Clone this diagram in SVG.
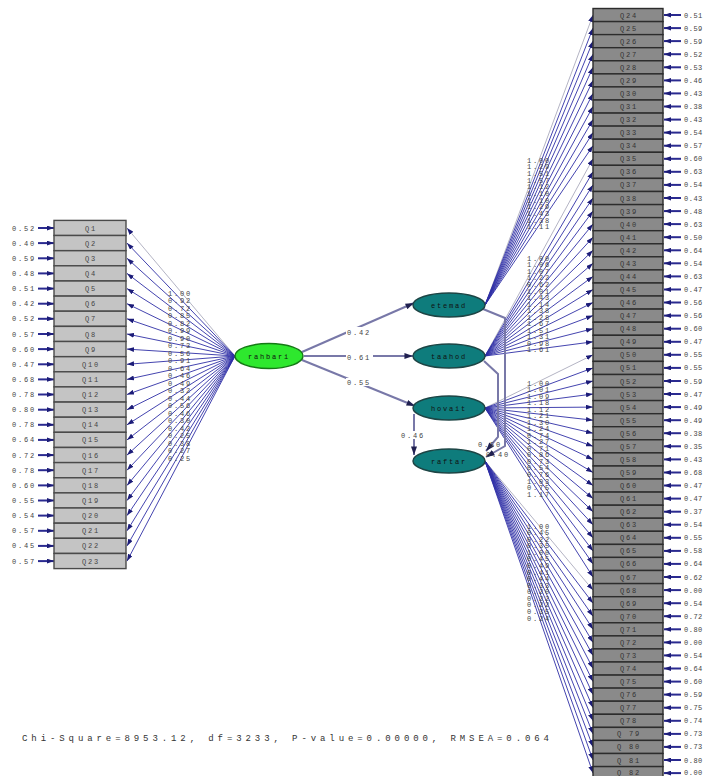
<svg xmlns="http://www.w3.org/2000/svg" width="705" height="776" viewBox="0 0 705 776">
<style>
.t{font-family:"Liberation Mono",monospace;font-size:7px;letter-spacing:1.8px;fill:#444}
.tr{font-family:"Liberation Mono",monospace;font-size:7px;letter-spacing:0.5px;fill:#444}
.c{text-anchor:middle}
.bl rect{fill:#c4c4c4;stroke:#4a4a4a;stroke-width:1.4}
.br rect{fill:#8a8a8a;stroke:#2c2c2c;stroke-width:1.4}
.br text{fill:#333}
.lat ellipse{fill:#0e7c7c;stroke:#1d4545;stroke-width:1.5}
.lt{font-family:"Liberation Mono",monospace;font-size:7px;letter-spacing:1.8px;fill:#111;text-anchor:middle}
.ld{stroke:#3030a6;stroke-width:1;stroke-opacity:.9;fill:none;marker-end:url(#ah)}
.fx{stroke:#b4b4c4;stroke-width:1;fill:none;marker-end:url(#ah)}
.er{stroke:#2a2a90;stroke-width:2;marker-end:url(#ah)}
.st{stroke:#7878a8;stroke-width:2;fill:none;marker-end:url(#am)}
.bg{fill:#fff}
.chi{font-family:"Liberation Mono",monospace;font-size:9px;fill:#333}
</style>
<defs>
<marker id="ah" viewBox="0 0 10 7" refX="10" refY="3.5" markerWidth="7" markerHeight="5" markerUnits="userSpaceOnUse" orient="auto"><path d="M0,0 L10,3.5 L0,7 z" fill="#1c1c78"/></marker>
<marker id="am" viewBox="0 0 10 7" refX="10" refY="3.5" markerWidth="9" markerHeight="6" markerUnits="userSpaceOnUse" orient="auto"><path d="M0,0 L10,3.5 L0,7 z" fill="#202050"/></marker>
</defs>
<rect width="705" height="776" fill="#fff"/>

<!-- connectors: loadings, structural paths, error terms -->
<g id="connectors">
<!-- rahbari -> Q1..Q23 -->
<line class="fx" x1="235" y1="356" x2="127" y2="228"/>
<line class="ld" x1="235" y1="356" x2="127" y2="243.1"/>
<line class="ld" x1="235" y1="356" x2="127" y2="258.3"/>
<line class="ld" x1="235" y1="356" x2="127" y2="273.4"/>
<line class="ld" x1="235" y1="356" x2="127" y2="288.6"/>
<line class="ld" x1="235" y1="356" x2="127" y2="303.7"/>
<line class="ld" x1="235" y1="356" x2="127" y2="318.8"/>
<line class="ld" x1="235" y1="356" x2="127" y2="334"/>
<line class="ld" x1="235" y1="356" x2="127" y2="349.1"/>
<line class="ld" x1="235" y1="356" x2="127" y2="364.3"/>
<line class="ld" x1="235" y1="356" x2="127" y2="379.4"/>
<line class="ld" x1="235" y1="356" x2="127" y2="394.5"/>
<line class="ld" x1="235" y1="356" x2="127" y2="409.7"/>
<line class="ld" x1="235" y1="356" x2="127" y2="424.8"/>
<line class="ld" x1="235" y1="356" x2="127" y2="439.9"/>
<line class="ld" x1="235" y1="356" x2="127" y2="455.1"/>
<line class="ld" x1="235" y1="356" x2="127" y2="470.2"/>
<line class="ld" x1="235" y1="356" x2="127" y2="485.4"/>
<line class="ld" x1="235" y1="356" x2="127" y2="500.5"/>
<line class="ld" x1="235" y1="356" x2="127" y2="515.6"/>
<line class="ld" x1="235" y1="356" x2="127" y2="530.8"/>
<line class="ld" x1="235" y1="356" x2="127" y2="545.9"/>
<line class="ld" x1="235" y1="356" x2="127" y2="561.1"/>

<!-- etemad -> Q24..Q34 -->
<line class="fx" x1="485" y1="305" x2="593" y2="15"/>
<line class="ld" x1="485" y1="305" x2="593" y2="28.1"/>
<line class="ld" x1="485" y1="305" x2="593" y2="41.1"/>
<line class="ld" x1="485" y1="305" x2="593" y2="54.2"/>
<line class="ld" x1="485" y1="305" x2="593" y2="67.3"/>
<line class="ld" x1="485" y1="305" x2="593" y2="80.4"/>
<line class="ld" x1="485" y1="305" x2="593" y2="93.4"/>
<line class="ld" x1="485" y1="305" x2="593" y2="106.5"/>
<line class="ld" x1="485" y1="305" x2="593" y2="119.6"/>
<line class="ld" x1="485" y1="305" x2="593" y2="132.6"/>
<line class="ld" x1="485" y1="305" x2="593" y2="145.7"/>
<!-- taahod -> Q35..Q49 -->
<line class="fx" x1="485" y1="356" x2="593" y2="158.8"/>
<line class="ld" x1="485" y1="356" x2="593" y2="171.8"/>
<line class="ld" x1="485" y1="356" x2="593" y2="184.9"/>
<line class="ld" x1="485" y1="356" x2="593" y2="198"/>
<line class="ld" x1="485" y1="356" x2="593" y2="211.1"/>
<line class="ld" x1="485" y1="356" x2="593" y2="224.1"/>
<line class="ld" x1="485" y1="356" x2="593" y2="237.2"/>
<line class="ld" x1="485" y1="356" x2="593" y2="250.3"/>
<line class="ld" x1="485" y1="356" x2="593" y2="263.3"/>
<line class="ld" x1="485" y1="356" x2="593" y2="276.4"/>
<line class="ld" x1="485" y1="356" x2="593" y2="289.5"/>
<line class="ld" x1="485" y1="356" x2="593" y2="302.5"/>
<line class="ld" x1="485" y1="356" x2="593" y2="315.6"/>
<line class="ld" x1="485" y1="356" x2="593" y2="328.7"/>
<line class="ld" x1="485" y1="356" x2="593" y2="341.8"/>
<!-- hovait -> Q50..Q67 -->
<line class="fx" x1="485" y1="408" x2="593" y2="354.8"/>
<line class="ld" x1="485" y1="408" x2="593" y2="367.9"/>
<line class="ld" x1="485" y1="408" x2="593" y2="381"/>
<line class="ld" x1="485" y1="408" x2="593" y2="394"/>
<line class="ld" x1="485" y1="408" x2="593" y2="407.1"/>
<line class="ld" x1="485" y1="408" x2="593" y2="420.2"/>
<line class="ld" x1="485" y1="408" x2="593" y2="433.2"/>
<line class="ld" x1="485" y1="408" x2="593" y2="446.3"/>
<line class="ld" x1="485" y1="408" x2="593" y2="459.4"/>
<line class="ld" x1="485" y1="408" x2="593" y2="472.5"/>
<line class="ld" x1="485" y1="408" x2="593" y2="485.5"/>
<line class="ld" x1="485" y1="408" x2="593" y2="498.6"/>
<line class="ld" x1="485" y1="408" x2="593" y2="511.7"/>
<line class="ld" x1="485" y1="408" x2="593" y2="524.7"/>
<line class="ld" x1="485" y1="408" x2="593" y2="537.8"/>
<line class="ld" x1="485" y1="408" x2="593" y2="550.9"/>
<line class="ld" x1="485" y1="408" x2="593" y2="563.9"/>
<line class="ld" x1="485" y1="408" x2="593" y2="577"/>
<!-- raftar -> Q68..Q82 -->
<line class="fx" x1="485" y1="461" x2="593" y2="590.1"/>
<line class="ld" x1="485" y1="461" x2="593" y2="603.2"/>
<line class="ld" x1="485" y1="461" x2="593" y2="616.2"/>
<line class="ld" x1="485" y1="461" x2="593" y2="629.3"/>
<line class="ld" x1="485" y1="461" x2="593" y2="642.4"/>
<line class="ld" x1="485" y1="461" x2="593" y2="655.4"/>
<line class="ld" x1="485" y1="461" x2="593" y2="668.5"/>
<line class="ld" x1="485" y1="461" x2="593" y2="681.6"/>
<line class="ld" x1="485" y1="461" x2="593" y2="694.6"/>
<line class="ld" x1="485" y1="461" x2="593" y2="707.7"/>
<line class="ld" x1="485" y1="461" x2="593" y2="720.8"/>
<line class="ld" x1="485" y1="461" x2="593" y2="733.9"/>
<line class="ld" x1="485" y1="461" x2="593" y2="746.9"/>
<line class="ld" x1="485" y1="461" x2="593" y2="760"/>
<line class="ld" x1="485" y1="461" x2="593" y2="773.1"/>

<!-- structural paths -->
<line class="st" x1="302" y1="352" x2="414" y2="303"/>
<line class="st" x1="304" y1="356" x2="413" y2="356"/>
<line class="st" x1="302" y1="360" x2="415" y2="406"/>
<path class="st" d="M414,414 L414,455"/>
<path class="st" d="M483,309 L505,318 L505,446 L486,457"/>
<path class="st" d="M484,361 L498,374 L498,437 L486,451"/>
<rect class="bg" x="346" y="327" width="27" height="8"/>
<rect class="bg" x="346" y="353" width="27" height="8"/>
<rect class="bg" x="346" y="378" width="27" height="8"/>
<rect class="bg" x="400" y="431" width="27" height="8"/>
<text class="t" x="347" y="334.5">0.42</text>
<text class="t" x="347" y="360">0.61</text>
<text class="t" x="347" y="384.5">0.55</text>
<text class="t" x="401" y="437.5">0.46</text>
<text class="t" x="478" y="446.5">0.50</text>
<text class="t" x="486" y="456.5">0.40</text>

<!-- loading values: rahbari -->
<g class="t">
<text x="168" y="295.8">1.00</text>
<text x="168" y="303.3">0.92</text>
<text x="168" y="310.8">0.72</text>
<text x="168" y="318.3">0.85</text>
<text x="168" y="325.8">0.82</text>
<text x="168" y="333.3">0.99</text>
<text x="168" y="340.7">0.90</text>
<text x="168" y="348.2">0.73</text>
<text x="168" y="355.7">0.56</text>
<text x="168" y="363.2">0.91</text>
<text x="168" y="370.7">0.64</text>
<text x="168" y="378.2">0.46</text>
<text x="168" y="385.7">0.49</text>
<text x="168" y="393.2">0.32</text>
<text x="168" y="400.7">0.44</text>
<text x="168" y="408.2">0.56</text>
<text x="168" y="415.6">0.46</text>
<text x="168" y="423.1">0.30</text>
<text x="168" y="430.6">0.42</text>
<text x="168" y="438.1">0.25</text>
<text x="168" y="445.6">0.38</text>
<text x="168" y="453.1">0.27</text>
<text x="168" y="460.6">0.25</text>
</g>
<!-- loading values: etemad -->
<g class="t">
<text x="527" y="162.5">1.00</text>
<text x="527" y="169.2">1.29</text>
<text x="527" y="175.8">1.51</text>
<text x="527" y="182.5">1.57</text>
<text x="527" y="189.2">1.12</text>
<text x="527" y="195.8">1.10</text>
<text x="527" y="202.5">1.10</text>
<text x="527" y="209.2">1.29</text>
<text x="527" y="215.8">1.43</text>
<text x="527" y="222.5">1.38</text>
<text x="527" y="229.2">1.11</text>
</g>
<!-- loading values: taahod -->
<g class="t">
<text x="527" y="260.8">1.00</text>
<text x="527" y="267.3">1.06</text>
<text x="527" y="273.9">1.07</text>
<text x="527" y="280.4">1.22</text>
<text x="527" y="287">0.62</text>
<text x="527" y="293.5">1.01</text>
<text x="527" y="300">1.43</text>
<text x="527" y="306.6">1.14</text>
<text x="527" y="313.1">1.38</text>
<text x="527" y="319.7">1.28</text>
<text x="527" y="326.2">1.67</text>
<text x="527" y="332.7">1.51</text>
<text x="527" y="339.3">1.31</text>
<text x="527" y="345.8">0.98</text>
<text x="527" y="352.4">1.61</text>
</g>
<!-- loading values: hovait -->
<g class="t">
<text x="527" y="385.5">1.00</text>
<text x="527" y="392">1.01</text>
<text x="527" y="398.6">1.09</text>
<text x="527" y="405.1">1.18</text>
<text x="527" y="411.6">1.12</text>
<text x="527" y="418.2">1.21</text>
<text x="527" y="424.7">1.30</text>
<text x="527" y="431.2">1.24</text>
<text x="527" y="437.7">0.74</text>
<text x="527" y="444.3">1.27</text>
<text x="527" y="450.8">0.71</text>
<text x="527" y="457.3">0.86</text>
<text x="527" y="463.9">0.73</text>
<text x="527" y="470.4">0.54</text>
<text x="527" y="476.9">0.76</text>
<text x="527" y="483.5">1.03</text>
<text x="527" y="490">0.75</text>
<text x="527" y="496.5">1.17</text>
</g>
<!-- loading values: raftar -->
<g class="t">
<text x="527" y="528.5">1.00</text>
<text x="527" y="535.1">0.45</text>
<text x="527" y="541.6">0.22</text>
<text x="527" y="548.2">0.35</text>
<text x="527" y="554.8">1.00</text>
<text x="527" y="561.4">0.45</text>
<text x="527" y="567.9">0.49</text>
<text x="527" y="574.5">0.41</text>
<text x="527" y="581.1">0.44</text>
<text x="527" y="587.6">0.33</text>
<text x="527" y="594.2">0.20</text>
<text x="527" y="600.8">0.22</text>
<text x="527" y="607.3">0.22</text>
<text x="527" y="613.9">0.35</text>
<text x="527" y="620.5">0.24</text>
</g>

<!-- error terms, left column -->
<g>
<line class="er" x1="38" y1="228" x2="54" y2="228"/><text class="t" x="12" y="230.5">0.52</text>
<line class="er" x1="38" y1="243.1" x2="54" y2="243.1"/><text class="t" x="12" y="245.6">0.40</text>
<line class="er" x1="38" y1="258.3" x2="54" y2="258.3"/><text class="t" x="12" y="260.8">0.59</text>
<line class="er" x1="38" y1="273.4" x2="54" y2="273.4"/><text class="t" x="12" y="275.9">0.48</text>
<line class="er" x1="38" y1="288.6" x2="54" y2="288.6"/><text class="t" x="12" y="291.1">0.51</text>
<line class="er" x1="38" y1="303.7" x2="54" y2="303.7"/><text class="t" x="12" y="306.2">0.42</text>
<line class="er" x1="38" y1="318.8" x2="54" y2="318.8"/><text class="t" x="12" y="321.3">0.52</text>
<line class="er" x1="38" y1="334" x2="54" y2="334"/><text class="t" x="12" y="336.5">0.57</text>
<line class="er" x1="38" y1="349.1" x2="54" y2="349.1"/><text class="t" x="12" y="351.6">0.60</text>
<line class="er" x1="38" y1="364.3" x2="54" y2="364.3"/><text class="t" x="12" y="366.8">0.47</text>
<line class="er" x1="38" y1="379.4" x2="54" y2="379.4"/><text class="t" x="12" y="381.9">0.68</text>
<line class="er" x1="38" y1="394.5" x2="54" y2="394.5"/><text class="t" x="12" y="397">0.78</text>
<line class="er" x1="38" y1="409.7" x2="54" y2="409.7"/><text class="t" x="12" y="412.2">0.80</text>
<line class="er" x1="38" y1="424.8" x2="54" y2="424.8"/><text class="t" x="12" y="427.3">0.78</text>
<line class="er" x1="38" y1="439.9" x2="54" y2="439.9"/><text class="t" x="12" y="442.4">0.64</text>
<line class="er" x1="38" y1="455.1" x2="54" y2="455.1"/><text class="t" x="12" y="457.6">0.72</text>
<line class="er" x1="38" y1="470.2" x2="54" y2="470.2"/><text class="t" x="12" y="472.7">0.78</text>
<line class="er" x1="38" y1="485.4" x2="54" y2="485.4"/><text class="t" x="12" y="487.9">0.60</text>
<line class="er" x1="38" y1="500.5" x2="54" y2="500.5"/><text class="t" x="12" y="503">0.55</text>
<line class="er" x1="38" y1="515.6" x2="54" y2="515.6"/><text class="t" x="12" y="518.1">0.54</text>
<line class="er" x1="38" y1="530.8" x2="54" y2="530.8"/><text class="t" x="12" y="533.3">0.57</text>
<line class="er" x1="38" y1="545.9" x2="54" y2="545.9"/><text class="t" x="12" y="548.4">0.45</text>
<line class="er" x1="38" y1="561.1" x2="54" y2="561.1"/><text class="t" x="12" y="563.6">0.57</text>
</g>
<!-- error terms, right column -->
<g>
<line class="er" x1="681" y1="15" x2="664" y2="15"/><text class="tr" x="684" y="17.5">0.51</text>
<line class="er" x1="681" y1="28.1" x2="664" y2="28.1"/><text class="tr" x="684" y="30.6">0.59</text>
<line class="er" x1="681" y1="41.1" x2="664" y2="41.1"/><text class="tr" x="684" y="43.6">0.59</text>
<line class="er" x1="681" y1="54.2" x2="664" y2="54.2"/><text class="tr" x="684" y="56.7">0.52</text>
<line class="er" x1="681" y1="67.3" x2="664" y2="67.3"/><text class="tr" x="684" y="69.8">0.53</text>
<line class="er" x1="681" y1="80.4" x2="664" y2="80.4"/><text class="tr" x="684" y="82.9">0.46</text>
<line class="er" x1="681" y1="93.4" x2="664" y2="93.4"/><text class="tr" x="684" y="95.9">0.43</text>
<line class="er" x1="681" y1="106.5" x2="664" y2="106.5"/><text class="tr" x="684" y="109">0.38</text>
<line class="er" x1="681" y1="119.6" x2="664" y2="119.6"/><text class="tr" x="684" y="122.1">0.43</text>
<line class="er" x1="681" y1="132.6" x2="664" y2="132.6"/><text class="tr" x="684" y="135.1">0.54</text>
<line class="er" x1="681" y1="145.7" x2="664" y2="145.7"/><text class="tr" x="684" y="148.2">0.57</text>
<line class="er" x1="681" y1="158.8" x2="664" y2="158.8"/><text class="tr" x="684" y="161.3">0.60</text>
<line class="er" x1="681" y1="171.8" x2="664" y2="171.8"/><text class="tr" x="684" y="174.3">0.63</text>
<line class="er" x1="681" y1="184.9" x2="664" y2="184.9"/><text class="tr" x="684" y="187.4">0.54</text>
<line class="er" x1="681" y1="198" x2="664" y2="198"/><text class="tr" x="684" y="200.5">0.43</text>
<line class="er" x1="681" y1="211.1" x2="664" y2="211.1"/><text class="tr" x="684" y="213.6">0.48</text>
<line class="er" x1="681" y1="224.1" x2="664" y2="224.1"/><text class="tr" x="684" y="226.6">0.63</text>
<line class="er" x1="681" y1="237.2" x2="664" y2="237.2"/><text class="tr" x="684" y="239.7">0.50</text>
<line class="er" x1="681" y1="250.3" x2="664" y2="250.3"/><text class="tr" x="684" y="252.8">0.64</text>
<line class="er" x1="681" y1="263.3" x2="664" y2="263.3"/><text class="tr" x="684" y="265.8">0.54</text>
<line class="er" x1="681" y1="276.4" x2="664" y2="276.4"/><text class="tr" x="684" y="278.9">0.63</text>
<line class="er" x1="681" y1="289.5" x2="664" y2="289.5"/><text class="tr" x="684" y="292">0.47</text>
<line class="er" x1="681" y1="302.5" x2="664" y2="302.5"/><text class="tr" x="684" y="305">0.56</text>
<line class="er" x1="681" y1="315.6" x2="664" y2="315.6"/><text class="tr" x="684" y="318.1">0.56</text>
<line class="er" x1="681" y1="328.7" x2="664" y2="328.7"/><text class="tr" x="684" y="331.2">0.60</text>
<line class="er" x1="681" y1="341.8" x2="664" y2="341.8"/><text class="tr" x="684" y="344.3">0.47</text>
<line class="er" x1="681" y1="354.8" x2="664" y2="354.8"/><text class="tr" x="684" y="357.3">0.55</text>
<line class="er" x1="681" y1="367.9" x2="664" y2="367.9"/><text class="tr" x="684" y="370.4">0.55</text>
<line class="er" x1="681" y1="381" x2="664" y2="381"/><text class="tr" x="684" y="383.5">0.59</text>
<line class="er" x1="681" y1="394" x2="664" y2="394"/><text class="tr" x="684" y="396.5">0.47</text>
<line class="er" x1="681" y1="407.1" x2="664" y2="407.1"/><text class="tr" x="684" y="409.6">0.49</text>
<line class="er" x1="681" y1="420.2" x2="664" y2="420.2"/><text class="tr" x="684" y="422.7">0.49</text>
<line class="er" x1="681" y1="433.2" x2="664" y2="433.2"/><text class="tr" x="684" y="435.7">0.38</text>
<line class="er" x1="681" y1="446.3" x2="664" y2="446.3"/><text class="tr" x="684" y="448.8">0.35</text>
<line class="er" x1="681" y1="459.4" x2="664" y2="459.4"/><text class="tr" x="684" y="461.9">0.43</text>
<line class="er" x1="681" y1="472.5" x2="664" y2="472.5"/><text class="tr" x="684" y="475">0.68</text>
<line class="er" x1="681" y1="485.5" x2="664" y2="485.5"/><text class="tr" x="684" y="488">0.47</text>
<line class="er" x1="681" y1="498.6" x2="664" y2="498.6"/><text class="tr" x="684" y="501.1">0.47</text>
<line class="er" x1="681" y1="511.7" x2="664" y2="511.7"/><text class="tr" x="684" y="514.2">0.37</text>
<line class="er" x1="681" y1="524.7" x2="664" y2="524.7"/><text class="tr" x="684" y="527.2">0.54</text>
<line class="er" x1="681" y1="537.8" x2="664" y2="537.8"/><text class="tr" x="684" y="540.3">0.55</text>
<line class="er" x1="681" y1="550.9" x2="664" y2="550.9"/><text class="tr" x="684" y="553.4">0.58</text>
<line class="er" x1="681" y1="563.9" x2="664" y2="563.9"/><text class="tr" x="684" y="566.4">0.64</text>
<line class="er" x1="681" y1="577" x2="664" y2="577"/><text class="tr" x="684" y="579.5">0.62</text>
<line class="er" x1="681" y1="590.1" x2="664" y2="590.1"/><text class="tr" x="684" y="592.6">0.00</text>
<line class="er" x1="681" y1="603.2" x2="664" y2="603.2"/><text class="tr" x="684" y="605.7">0.54</text>
<line class="er" x1="681" y1="616.2" x2="664" y2="616.2"/><text class="tr" x="684" y="618.7">0.72</text>
<line class="er" x1="681" y1="629.3" x2="664" y2="629.3"/><text class="tr" x="684" y="631.8">0.80</text>
<line class="er" x1="681" y1="642.4" x2="664" y2="642.4"/><text class="tr" x="684" y="644.9">0.00</text>
<line class="er" x1="681" y1="655.4" x2="664" y2="655.4"/><text class="tr" x="684" y="657.9">0.54</text>
<line class="er" x1="681" y1="668.5" x2="664" y2="668.5"/><text class="tr" x="684" y="671">0.64</text>
<line class="er" x1="681" y1="681.6" x2="664" y2="681.6"/><text class="tr" x="684" y="684.1">0.60</text>
<line class="er" x1="681" y1="694.6" x2="664" y2="694.6"/><text class="tr" x="684" y="697.1">0.59</text>
<line class="er" x1="681" y1="707.7" x2="664" y2="707.7"/><text class="tr" x="684" y="710.2">0.75</text>
<line class="er" x1="681" y1="720.8" x2="664" y2="720.8"/><text class="tr" x="684" y="723.3">0.74</text>
<line class="er" x1="681" y1="733.9" x2="664" y2="733.9"/><text class="tr" x="684" y="736.4">0.73</text>
<line class="er" x1="681" y1="746.9" x2="664" y2="746.9"/><text class="tr" x="684" y="749.4">0.73</text>
<line class="er" x1="681" y1="760" x2="664" y2="760"/><text class="tr" x="684" y="762.5">0.80</text>
<line class="er" x1="681" y1="773.1" x2="664" y2="773.1"/><text class="tr" x="684" y="775">0.00</text>
</g>
</g>

<!-- latent variables -->
<g id="rahbari"><ellipse cx="269" cy="356" rx="34" ry="12.5" fill="#2ee82e" stroke="#157a15" stroke-width="1.5"/><text class="lt" x="269" y="358.5">rahbari</text></g>
<g id="etemad" class="lat"><ellipse cx="449" cy="305" rx="36" ry="12"/><text class="lt" x="449" y="307.5">etemad</text></g>
<g id="taahod" class="lat"><ellipse cx="449" cy="356" rx="36" ry="12"/><text class="lt" x="449" y="358.5">taahod</text></g>
<g id="hovait" class="lat"><ellipse cx="449" cy="408" rx="36" ry="12"/><text class="lt" x="449" y="410.5">hovait</text></g>
<g id="raftar" class="lat"><ellipse cx="449" cy="461" rx="36" ry="12"/><text class="lt" x="449" y="463.5">raftar</text></g>

<!-- observed indicators, left column -->
<g class="bl">
<g id="Q1"><rect x="54" y="220.4" width="72" height="15.1"/><text class="t c" x="91" y="230.5">Q1</text></g>
<g id="Q2"><rect x="54" y="235.5" width="72" height="15.1"/><text class="t c" x="91" y="245.6">Q2</text></g>
<g id="Q3"><rect x="54" y="250.7" width="72" height="15.1"/><text class="t c" x="91" y="260.8">Q3</text></g>
<g id="Q4"><rect x="54" y="265.8" width="72" height="15.1"/><text class="t c" x="91" y="275.9">Q4</text></g>
<g id="Q5"><rect x="54" y="281" width="72" height="15.1"/><text class="t c" x="91" y="291.1">Q5</text></g>
<g id="Q6"><rect x="54" y="296.1" width="72" height="15.1"/><text class="t c" x="91" y="306.2">Q6</text></g>
<g id="Q7"><rect x="54" y="311.2" width="72" height="15.1"/><text class="t c" x="91" y="321.3">Q7</text></g>
<g id="Q8"><rect x="54" y="326.4" width="72" height="15.1"/><text class="t c" x="91" y="336.5">Q8</text></g>
<g id="Q9"><rect x="54" y="341.5" width="72" height="15.1"/><text class="t c" x="91" y="351.6">Q9</text></g>
<g id="Q10"><rect x="54" y="356.7" width="72" height="15.1"/><text class="t c" x="91" y="366.8">Q10</text></g>
<g id="Q11"><rect x="54" y="371.8" width="72" height="15.1"/><text class="t c" x="91" y="381.9">Q11</text></g>
<g id="Q12"><rect x="54" y="386.9" width="72" height="15.1"/><text class="t c" x="91" y="397">Q12</text></g>
<g id="Q13"><rect x="54" y="402.1" width="72" height="15.1"/><text class="t c" x="91" y="412.2">Q13</text></g>
<g id="Q14"><rect x="54" y="417.2" width="72" height="15.1"/><text class="t c" x="91" y="427.3">Q14</text></g>
<g id="Q15"><rect x="54" y="432.3" width="72" height="15.1"/><text class="t c" x="91" y="442.4">Q15</text></g>
<g id="Q16"><rect x="54" y="447.5" width="72" height="15.1"/><text class="t c" x="91" y="457.6">Q16</text></g>
<g id="Q17"><rect x="54" y="462.6" width="72" height="15.1"/><text class="t c" x="91" y="472.7">Q17</text></g>
<g id="Q18"><rect x="54" y="477.8" width="72" height="15.1"/><text class="t c" x="91" y="487.9">Q18</text></g>
<g id="Q19"><rect x="54" y="492.9" width="72" height="15.1"/><text class="t c" x="91" y="503">Q19</text></g>
<g id="Q20"><rect x="54" y="508" width="72" height="15.1"/><text class="t c" x="91" y="518.1">Q20</text></g>
<g id="Q21"><rect x="54" y="523.2" width="72" height="15.1"/><text class="t c" x="91" y="533.3">Q21</text></g>
<g id="Q22"><rect x="54" y="538.3" width="72" height="15.1"/><text class="t c" x="91" y="548.4">Q22</text></g>
<g id="Q23"><rect x="54" y="553.5" width="72" height="15.1"/><text class="t c" x="91" y="563.6">Q23</text></g>
</g>

<!-- observed indicators, right column -->
<g class="br">
<g id="Q24"><rect x="593" y="8.5" width="70" height="13.07"/><text class="t c" x="629" y="17.5">Q24</text></g>
<g id="Q25"><rect x="593" y="21.6" width="70" height="13.07"/><text class="t c" x="629" y="30.6">Q25</text></g>
<g id="Q26"><rect x="593" y="34.6" width="70" height="13.07"/><text class="t c" x="629" y="43.6">Q26</text></g>
<g id="Q27"><rect x="593" y="47.7" width="70" height="13.07"/><text class="t c" x="629" y="56.7">Q27</text></g>
<g id="Q28"><rect x="593" y="60.8" width="70" height="13.07"/><text class="t c" x="629" y="69.8">Q28</text></g>
<g id="Q29"><rect x="593" y="73.9" width="70" height="13.07"/><text class="t c" x="629" y="82.9">Q29</text></g>
<g id="Q30"><rect x="593" y="86.9" width="70" height="13.07"/><text class="t c" x="629" y="95.9">Q30</text></g>
<g id="Q31"><rect x="593" y="100" width="70" height="13.07"/><text class="t c" x="629" y="109">Q31</text></g>
<g id="Q32"><rect x="593" y="113.1" width="70" height="13.07"/><text class="t c" x="629" y="122.1">Q32</text></g>
<g id="Q33"><rect x="593" y="126.1" width="70" height="13.07"/><text class="t c" x="629" y="135.1">Q33</text></g>
<g id="Q34"><rect x="593" y="139.2" width="70" height="13.07"/><text class="t c" x="629" y="148.2">Q34</text></g>
<g id="Q35"><rect x="593" y="152.3" width="70" height="13.07"/><text class="t c" x="629" y="161.3">Q35</text></g>
<g id="Q36"><rect x="593" y="165.3" width="70" height="13.07"/><text class="t c" x="629" y="174.3">Q36</text></g>
<g id="Q37"><rect x="593" y="178.4" width="70" height="13.07"/><text class="t c" x="629" y="187.4">Q37</text></g>
<g id="Q38"><rect x="593" y="191.5" width="70" height="13.07"/><text class="t c" x="629" y="200.5">Q38</text></g>
<g id="Q39"><rect x="593" y="204.6" width="70" height="13.07"/><text class="t c" x="629" y="213.6">Q39</text></g>
<g id="Q40"><rect x="593" y="217.6" width="70" height="13.07"/><text class="t c" x="629" y="226.6">Q40</text></g>
<g id="Q41"><rect x="593" y="230.7" width="70" height="13.07"/><text class="t c" x="629" y="239.7">Q41</text></g>
<g id="Q42"><rect x="593" y="243.8" width="70" height="13.07"/><text class="t c" x="629" y="252.8">Q42</text></g>
<g id="Q43"><rect x="593" y="256.8" width="70" height="13.07"/><text class="t c" x="629" y="265.8">Q43</text></g>
<g id="Q44"><rect x="593" y="269.9" width="70" height="13.07"/><text class="t c" x="629" y="278.9">Q44</text></g>
<g id="Q45"><rect x="593" y="283" width="70" height="13.07"/><text class="t c" x="629" y="292">Q45</text></g>
<g id="Q46"><rect x="593" y="296" width="70" height="13.07"/><text class="t c" x="629" y="305">Q46</text></g>
<g id="Q47"><rect x="593" y="309.1" width="70" height="13.07"/><text class="t c" x="629" y="318.1">Q47</text></g>
<g id="Q48"><rect x="593" y="322.2" width="70" height="13.07"/><text class="t c" x="629" y="331.2">Q48</text></g>
<g id="Q49"><rect x="593" y="335.3" width="70" height="13.07"/><text class="t c" x="629" y="344.3">Q49</text></g>
<g id="Q50"><rect x="593" y="348.3" width="70" height="13.07"/><text class="t c" x="629" y="357.3">Q50</text></g>
<g id="Q51"><rect x="593" y="361.4" width="70" height="13.07"/><text class="t c" x="629" y="370.4">Q51</text></g>
<g id="Q52"><rect x="593" y="374.5" width="70" height="13.07"/><text class="t c" x="629" y="383.5">Q52</text></g>
<g id="Q53"><rect x="593" y="387.5" width="70" height="13.07"/><text class="t c" x="629" y="396.5">Q53</text></g>
<g id="Q54"><rect x="593" y="400.6" width="70" height="13.07"/><text class="t c" x="629" y="409.6">Q54</text></g>
<g id="Q55"><rect x="593" y="413.7" width="70" height="13.07"/><text class="t c" x="629" y="422.7">Q55</text></g>
<g id="Q56"><rect x="593" y="426.7" width="70" height="13.07"/><text class="t c" x="629" y="435.7">Q56</text></g>
<g id="Q57"><rect x="593" y="439.8" width="70" height="13.07"/><text class="t c" x="629" y="448.8">Q57</text></g>
<g id="Q58"><rect x="593" y="452.9" width="70" height="13.07"/><text class="t c" x="629" y="461.9">Q58</text></g>
<g id="Q59"><rect x="593" y="466" width="70" height="13.07"/><text class="t c" x="629" y="475">Q59</text></g>
<g id="Q60"><rect x="593" y="479" width="70" height="13.07"/><text class="t c" x="629" y="488">Q60</text></g>
<g id="Q61"><rect x="593" y="492.1" width="70" height="13.07"/><text class="t c" x="629" y="501.1">Q61</text></g>
<g id="Q62"><rect x="593" y="505.2" width="70" height="13.07"/><text class="t c" x="629" y="514.2">Q62</text></g>
<g id="Q63"><rect x="593" y="518.2" width="70" height="13.07"/><text class="t c" x="629" y="527.2">Q63</text></g>
<g id="Q64"><rect x="593" y="531.3" width="70" height="13.07"/><text class="t c" x="629" y="540.3">Q64</text></g>
<g id="Q65"><rect x="593" y="544.4" width="70" height="13.07"/><text class="t c" x="629" y="553.4">Q65</text></g>
<g id="Q66"><rect x="593" y="557.4" width="70" height="13.07"/><text class="t c" x="629" y="566.4">Q66</text></g>
<g id="Q67"><rect x="593" y="570.5" width="70" height="13.07"/><text class="t c" x="629" y="579.5">Q67</text></g>
<g id="Q68"><rect x="593" y="583.6" width="70" height="13.07"/><text class="t c" x="629" y="592.6">Q68</text></g>
<g id="Q69"><rect x="593" y="596.7" width="70" height="13.07"/><text class="t c" x="629" y="605.7">Q69</text></g>
<g id="Q70"><rect x="593" y="609.7" width="70" height="13.07"/><text class="t c" x="629" y="618.7">Q70</text></g>
<g id="Q71"><rect x="593" y="622.8" width="70" height="13.07"/><text class="t c" x="629" y="631.8">Q71</text></g>
<g id="Q72"><rect x="593" y="635.9" width="70" height="13.07"/><text class="t c" x="629" y="644.9">Q72</text></g>
<g id="Q73"><rect x="593" y="648.9" width="70" height="13.07"/><text class="t c" x="629" y="657.9">Q73</text></g>
<g id="Q74"><rect x="593" y="662" width="70" height="13.07"/><text class="t c" x="629" y="671">Q74</text></g>
<g id="Q75"><rect x="593" y="675.1" width="70" height="13.07"/><text class="t c" x="629" y="684.1">Q75</text></g>
<g id="Q76"><rect x="593" y="688.1" width="70" height="13.07"/><text class="t c" x="629" y="697.1">Q76</text></g>
<g id="Q77"><rect x="593" y="701.2" width="70" height="13.07"/><text class="t c" x="629" y="710.2">Q77</text></g>
<g id="Q78"><rect x="593" y="714.3" width="70" height="13.07"/><text class="t c" x="629" y="723.3">Q78</text></g>
<g id="Q79"><rect x="593" y="727.4" width="70" height="13.07"/><text class="t c" x="629" y="736.4">Q 79</text></g>
<g id="Q80"><rect x="593" y="740.4" width="70" height="13.07"/><text class="t c" x="629" y="749.4">Q 80</text></g>
<g id="Q81"><rect x="593" y="753.5" width="70" height="13.07"/><text class="t c" x="629" y="762.5">Q 81</text></g>
<g id="Q82"><rect x="593" y="766.6" width="70" height="13.07"/><text class="t c" x="629" y="775">Q 82</text></g>
</g>

<!-- fit statistics -->
<text class="chi" x="22" y="741" textLength="527" lengthAdjust="spacing">Chi-Square=8953.12, df=3233, P-value=0.00000, RMSEA=0.064</text>
</svg>
